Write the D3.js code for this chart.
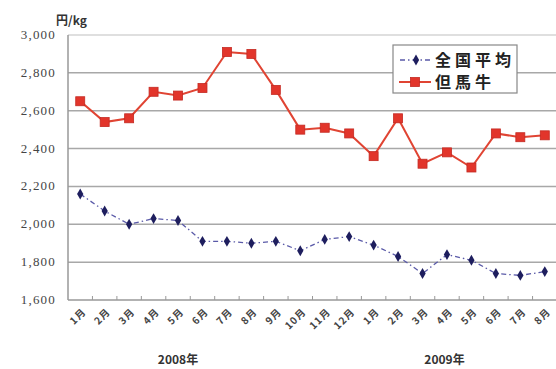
<!DOCTYPE html>
<meta charset="utf-8">
<style>
  body { margin: 0; background: #fff; font-family: "Noto Sans CJK JP", "Liberation Sans", sans-serif; }
  .grid line { stroke: #a8a8a8; stroke-width: 1.5; }
  .grid line.top { stroke: #d4d4d4; }
  .ylab text { font-family: "Liberation Serif", serif; font-size: 13px; fill: #444; letter-spacing: 1.2px; }
  .xlab text { font-size: 10px; font-weight: bold; fill: #444; letter-spacing: 1px; }
  .year { font-size: 12px; font-weight: bold; fill: #333; }
  .legend text { font-size: 16px; font-weight: bold; fill: #222; letter-spacing: 4px; }
</style>
<body>
<div id="chart"></div>
<script src="https://cdn.jsdelivr.net/npm/d3@7"></script>
<script>

// months Jan 2008 .. Aug 2009
var months = ["1月","2月","3月","4月","5月","6月","7月","8月","9月","10月","11月","12月",
              "1月","2月","3月","4月","5月","6月","7月","8月"];
var years = ["2008年", "2009年"];
var yearPos = [4.5, 15.4];   // in category steps from left edge

var national = [2160, 2070, 2000, 2030, 2020, 1910, 1910, 1900, 1910, 1860,
                1920, 1935, 1890, 1830, 1740, 1840, 1810, 1740, 1730, 1750];
var tajima   = [2650, 2540, 2560, 2700, 2680, 2720, 2910, 2900, 2710, 2500,
                2510, 2480, 2360, 2560, 2320, 2380, 2300, 2480, 2460, 2470];

var yTicks = [1600, 1800, 2000, 2200, 2400, 2600, 2800, 3000];

var width = 556, height = 369,
    pLeft = 68, pRight = 557, pTop = 35, pBottom = 300;

var svg = d3.select("#chart").append("svg")
    .attr("width", width)
    .attr("height", height);

var keys = months.map(function(m, i) { return i; });

var x = d3.scaleBand().domain(keys).range([pLeft, pRight]),
    y = d3.scaleLinear().domain([1600, 3000]).range([pBottom, pTop]);

function cx(i) { return x(i) + x.bandwidth() / 2; }

// gridlines
svg.append("g").attr("class", "grid")
  .selectAll("line")
    .data(yTicks.slice(1))
  .enter().append("line")
    .attr("class", function(d) { return d === 3000 ? "top" : null; })
    .attr("x1", pLeft).attr("x2", width)
    .attr("y1", function(d) { return y(d); })
    .attr("y2", function(d) { return y(d); });

// axes lines
svg.append("line")
    .attr("x1", pLeft).attr("x2", pLeft).attr("y1", pTop).attr("y2", pBottom)
    .attr("stroke", "#999").attr("stroke-width", 1.5);
svg.append("line")
    .attr("x1", pLeft).attr("x2", width).attr("y1", pBottom).attr("y2", pBottom)
    .attr("stroke", "#999").attr("stroke-width", 1.5);

// x tick marks at category boundaries
svg.append("g").selectAll("line")
    .data(keys.slice(1))
  .enter().append("line")
    .attr("x1", function(d) { return x(d); })
    .attr("x2", function(d) { return x(d); })
    .attr("y1", pBottom - 4).attr("y2", pBottom)
    .attr("stroke", "#999");

// y labels
svg.append("g").attr("class", "ylab")
  .selectAll("text")
    .data(yTicks)
  .enter().append("text")
    .attr("x", 56)
    .attr("y", function(d) { return y(d) + 4; })
    .attr("text-anchor", "end")
    .text(d3.format(","));

svg.append("text")
    .attr("x", 56).attr("y", 25)
    .style("font-size", "12px").style("font-weight", "bold").style("fill", "#333")
    .text("円/kg");

// month labels, rotated
svg.append("g").attr("class", "xlab")
  .selectAll("text")
    .data(keys)
  .enter().append("text")
    .attr("text-anchor", "end")
    .attr("transform", function(d) {
      return "translate(" + (cx(d) + 4) + "," + (pBottom + 10) + ")rotate(-45)";
    })
    .attr("dy", "0.35em")
    .text(function(d) { return months[d]; });

svg.append("g").selectAll("text.year")
    .data(years)
  .enter().append("text")
    .attr("class", "year")
    .attr("text-anchor", "middle")
    .attr("x", function(d, i) { return pLeft + x.step() * yearPos[i]; })
    .attr("y", 364)
    .text(function(d) { return d; });

var line = d3.line()
    .x(function(d, i) { return cx(i); })
    .y(function(d) { return y(d); });

// national average: dash-dot navy
svg.append("path")
    .attr("d", line(national))
    .attr("fill", "none")
    .attr("stroke", "#5a5aa8")
    .attr("stroke-width", 1.3)
    .attr("stroke-dasharray", "5,3,1.5,3");

var diamond = d3.symbol().type(d3.symbolDiamond).size(34);

svg.append("g").selectAll("path")
    .data(national)
  .enter().append("path")
    .attr("d", diamond)
    .attr("transform", function(d, i) { return "translate(" + cx(i) + "," + y(d) + ")"; })
    .attr("fill", "#1e1e5e");

// tajima beef: red solid with squares
svg.append("path")
    .attr("d", line(tajima))
    .attr("fill", "none")
    .attr("stroke", "#e04433")
    .attr("stroke-width", 2);

svg.append("g").selectAll("rect")
    .data(tajima)
  .enter().append("rect")
    .attr("x", function(d, i) { return cx(i) - 4.5; })
    .attr("y", function(d) { return y(d) - 4.5; })
    .attr("width", 9).attr("height", 9)
    .attr("fill", "#e2352b")
    .attr("stroke", "#c42a22")
    .attr("stroke-width", 0.8);

// legend
var lg = svg.append("g").attr("class", "legend");
lg.append("rect")
    .attr("x", 393).attr("y", 45).attr("width", 124).attr("height", 48)
    .attr("fill", "#fff").attr("stroke", "#888").attr("stroke-width", 1.2);

lg.append("line")
    .attr("x1", 400).attr("x2", 432).attr("y1", 60).attr("y2", 60)
    .attr("stroke", "#5a5aa8").attr("stroke-width", 1.3)
    .attr("stroke-dasharray", "5,3,1.5,3");
lg.append("path")
    .attr("d", diamond)
    .attr("transform", "translate(416,60)")
    .attr("fill", "#1e1e5e");
lg.append("text").attr("x", 435).attr("y", 66).text("全国平均");

lg.append("line")
    .attr("x1", 399).attr("x2", 431).attr("y1", 82).attr("y2", 82)
    .attr("stroke", "#e04433").attr("stroke-width", 2);
lg.append("rect")
    .attr("x", 410.5).attr("y", 77.5).attr("width", 9).attr("height", 9)
    .attr("fill", "#e2352b").attr("stroke", "#c42a22").attr("stroke-width", 0.8);
lg.append("text").attr("x", 435).attr("y", 88).text("但馬牛");

</script>
</body>
